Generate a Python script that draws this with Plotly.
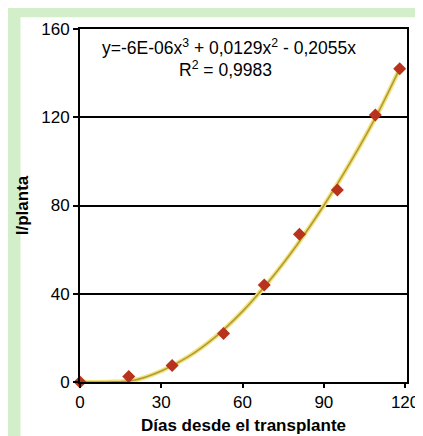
import plotly.graph_objects as go

# Data
dias = [0, 18, 34, 53, 68, 81, 95, 109, 118]
l_planta = [0, 2.5, 7.5, 22, 44, 67, 87, 121, 142]

# Trend line (polynomial fit shown in chart)
trend_x = [0, 10, 20, 30, 40, 50, 60, 70, 80, 90, 100, 110, 118]
trend_y = [0, 0, 0.8, 5, 11.5, 20.5, 32, 46, 62, 80, 100, 122, 142]

x_ticks = [0, 30, 60, 90, 120]
y_ticks = [0, 40, 80, 120, 160]

eq_line1 = "y=-6E-06x<sup>3</sup> + 0,0129x<sup>2</sup> - 0,2055x"
eq_line2 = "R<sup>2</sup> = 0,9983"
x_title = "<b>Días desde el transplante</b>"
y_title = "<b>l/planta</b>"

FONT = "Liberation Sans, Arial, sans-serif"

fig = go.Figure()
fig.add_trace(go.Scatter(
    x=trend_x, y=trend_y, mode="lines", line=dict(color="#f3e27a", width=4.5, shape="spline"),
    hoverinfo="skip", showlegend=False, cliponaxis=False))
fig.add_trace(go.Scatter(
    x=trend_x, y=trend_y, mode="lines", line=dict(color="#b09a3a", width=1.6, shape="spline"),
    hoverinfo="skip", showlegend=False, cliponaxis=False))
fig.add_trace(go.Scatter(
    x=dias, y=l_planta, mode="markers",
    marker=dict(symbol="diamond", size=10, color="#b8321c", line=dict(width=0)),
    showlegend=False, cliponaxis=False))

fig.add_annotation(x=0.457, y=0.948, xref="paper", yref="paper", text=eq_line1, showarrow=False,
                   font=dict(family=FONT, size=17.5, color="black"), xanchor="center", yanchor="middle")
fig.add_annotation(x=0.445, y=0.888, xref="paper", yref="paper", text=eq_line2, showarrow=False,
                   font=dict(family=FONT, size=17.5, color="black"), xanchor="center", yanchor="middle")

# white panel on green background
fig.add_shape(type="rect", xref="paper", yref="paper", x0=-0.182, x1=1.03, y0=-0.2, y1=1.033,
              fillcolor="white", line=dict(width=0), layer="below")

fig.update_layout(
    width=423, height=436,
    margin=dict(l=72, r=21, t=21, b=57),
    paper_bgcolor="#d3efca",
    plot_bgcolor="white",
    font=dict(family=FONT, size=17, color="black"),
    xaxis=dict(range=[0, 120.7], tickvals=x_ticks, ticks="outside", ticklen=4, tickwidth=2,
               tickcolor="black", showline=True, linecolor="black", linewidth=2, mirror=True,
               showgrid=False, zeroline=False,
               title=dict(text=x_title, font=dict(family=FONT, size=17), standoff=8),
               tickfont=dict(size=17)),
    yaxis=dict(range=[0, 160], tickvals=y_ticks, ticks="outside", ticklen=5, tickwidth=2,
               tickcolor="black", showline=True, linecolor="black", linewidth=2, mirror=True,
               showgrid=True, gridcolor="black", gridwidth=1.5, zeroline=False,
               title=dict(text=y_title, font=dict(family=FONT, size=17), standoff=8),
               tickfont=dict(size=17)),
)

fig.write_html("out.html")
